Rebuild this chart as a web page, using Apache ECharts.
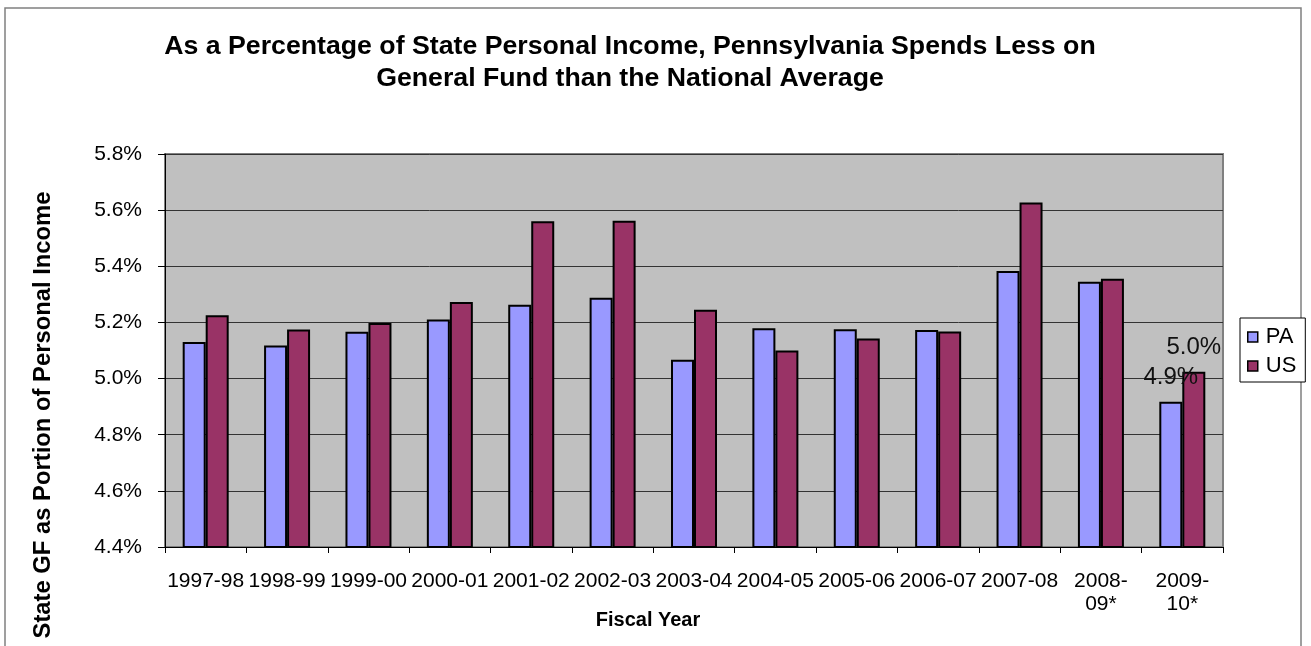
<!DOCTYPE html>
<html>
<head>
<meta charset="utf-8">
<title>PA vs US general fund spending</title>
<script src="https://cdn.jsdelivr.net/npm/echarts@6/dist/echarts.min.js"></script>
<style>
  html, body { margin: 0; padding: 0; background: #fff; }
  #main { width: 1311px; height: 646px; }
</style>
</head>
<body>
<div id="main"></div>
<script>
// fiscal years (the last two wrap onto two lines like the original)
var fiscalYears = ['1997-98', '1998-99', '1999-00', '2000-01', '2001-02', '2002-03', '2003-04',
  '2004-05', '2005-06', '2006-07', '2007-08', '2008-\n09*', '2009-\n10*'];
// state GF spending as % of personal income
var paValues = [5.13, 5.118, 5.167, 5.21, 5.263, 5.288, 5.067, 5.179, 5.176, 5.173, 5.383, 5.345, 4.917];
var usValues = [5.226, 5.175, 5.198, 5.273, 5.56, 5.562, 5.245, 5.10, 5.143, 5.168, 5.627, 5.356, 5.024];
var yMin = 4.4, yMax = 5.8, yStep = 0.2;

var FONT = "'Liberation Sans', Arial, sans-serif";

// only the last year gets a value label
function withLastLabel(values) {
  return values.map(function (v, i) {
    if (i !== values.length - 1) return v;
    return {
      value: v,
      label: {
        show: true, position: 'top', distance: 12,
        fontFamily: FONT, fontSize: 24, color: '#111',
        formatter: function (p) { return p.value.toFixed(1) + '%'; }
      }
    };
  });
}

var myChart = echarts.init(document.getElementById('main'), null, { renderer: 'canvas' });
myChart.setOption({
  animation: false,
  backgroundColor: '#fff',
  title: {
    text: 'As a Percentage of State Personal Income, Pennsylvania Spends Less on\nGeneral Fund than the National Average',
    left: 625, top: 26, textAlign: 'center',
    textStyle: { fontFamily: FONT, fontSize: 26.7, fontWeight: 'bold', color: '#000', lineHeight: 32 }
  },
  legend: {
    data: ['PA', 'US'],
    orient: 'vertical',
    left: 1240, top: 318,
    padding: [8, 9, 5, 7],
    itemGap: 7,
    itemWidth: 10, itemHeight: 10,
    icon: 'rect',
    borderColor: '#000', borderWidth: 1,
    backgroundColor: '#fff',
    itemStyle: { borderColor: '#000', borderWidth: 1.5 },
    textStyle: { fontFamily: FONT, fontSize: 22, color: '#000', padding: [0, 0, 0, 3] }
  },
  grid: {
    left: 165, right: 88, top: 154, bottom: 99,
    show: true, backgroundColor: '#C0C0C0', borderColor: '#808080', borderWidth: 2,
    outerBoundsMode: 'none'
  },
  xAxis: {
    type: 'category',
    data: fiscalYears,
    axisLine: { lineStyle: { color: '#000', width: 1 } },
    axisTick: { show: true, length: 6, alignWithLabel: false, lineStyle: { color: '#000' } },
    axisLabel: { interval: 0, margin: 23, fontFamily: FONT, fontSize: 21, color: '#000', lineHeight: 23 }
  },
  yAxis: {
    type: 'value',
    min: yMin, max: yMax, interval: yStep,
    axisLine: { show: true, lineStyle: { color: '#000', width: 1 } },
    axisTick: { show: true, length: 7, lineStyle: { color: '#000' } },
    axisLabel: {
      margin: 23, fontFamily: FONT, fontSize: 21, color: '#000',
      formatter: function (v) { return v.toFixed(1) + '%'; }
    },
    splitLine: { lineStyle: { color: '#333', width: 1 } }
  },
  graphic: [
    { // outer chart frame, runs off the bottom like the source
      type: 'rect', z: -1,
      shape: { x: 5, y: 8, width: 1296, height: 700 },
      style: { fill: 'none', stroke: '#808080', lineWidth: 1.5 }
    },
    {
      type: 'text', x: 43, y: 415, rotation: Math.PI / 2,
      style: {
        text: 'State GF as Portion of Personal Income',
        fontFamily: FONT, fontSize: 23.8, fontWeight: 'bold', fill: '#000',
        align: 'center', verticalAlign: 'middle'
      }
    },
    {
      type: 'text', x: 648, y: 620,
      style: {
        text: 'Fiscal Year',
        fontFamily: FONT, fontSize: 20, fontWeight: 'bold', fill: '#000',
        align: 'center', verticalAlign: 'middle'
      }
    }
  ],
  series: [
    {
      name: 'PA', type: 'bar',
      data: withLastLabel(paValues),
      barWidth: 23, barGap: '0%',
      itemStyle: { color: '#9999FF', borderColor: '#000', borderWidth: 2 }
    },
    {
      name: 'US', type: 'bar',
      data: withLastLabel(usValues),
      barWidth: 23, barGap: '0%',
      itemStyle: { color: '#993366', borderColor: '#000', borderWidth: 2 }
    }
  ]
});
</script>
</body>
</html>
